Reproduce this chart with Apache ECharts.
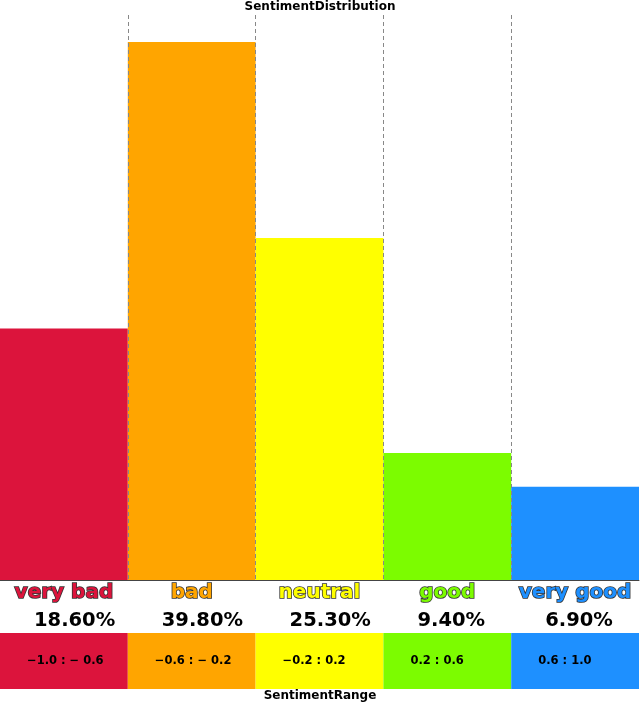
<!DOCTYPE html>
<html><head><meta charset="utf-8">
<script src="https://cdn.jsdelivr.net/npm/echarts@6/dist/echarts.min.js"></script>
<style>html,body{margin:0;padding:0;background:#fff}#c{width:640px;height:703px}</style>
</head><body><div id="c"></div>
<script>
const categories = ['very bad', 'bad', 'neutral', 'good', 'very good'];
const percentages = [18.6, 39.8, 25.3, 9.4, 6.9];
const ranges = ['\u22121.0 : \u2212 0.6', '\u22120.6 : \u2212 0.2', '\u22120.2 : 0.2', '0.2 : 0.6', '0.6 : 1.0'];
const colors = ['#DC143C', '#FFA500', '#FFFF00', '#7CFC00', '#1E90FF'];
const bandValues = [1, 1, 1, 1, 1];

const FONT = 'DejaVu Sans';
const chart = echarts.init(document.getElementById('c'), null, {renderer: 'canvas'});
const maxPct = Math.max(...percentages);
chart.setOption({
  animation: false,
  textStyle: {fontFamily: FONT},
  title: [
    {text: 'SentimentDistribution', left: 'center', top: -4, textStyle: {fontFamily: FONT, fontSize: 12, fontWeight: 'bold', color: '#000'}},
    {text: 'SentimentRange', left: 'center', top: 685, textStyle: {fontFamily: FONT, fontSize: 12, fontWeight: 'bold', color: '#000'}}
  ],
  grid: [
    {left: 0, right: 1, top: 15, height: 565},
    {left: 0, right: 1, top: 606, height: 30},
    {left: 0, right: 1, top: 633, height: 56}
  ],
  xAxis: [
    {type: 'category', gridIndex: 0, data: categories,
      axisLine: {show: true, lineStyle: {color: '#444', width: 1}},
      axisTick: {show: false}, splitLine: {show: false},
      axisLabel: {interval: 0, margin: 3, fontSize: 20, fontWeight: 'bold', fontFamily: FONT,
        color: (v, i) => colors[i], textBorderColor: '#333', textBorderWidth: 1.6}},
    {type: 'value', gridIndex: 0, min: 0, max: categories.length, interval: 1, show: true, z: 10,
      axisLine: {show: false}, axisTick: {show: false}, axisLabel: {show: false},
      splitLine: {show: true, showMinLine: false, showMaxLine: false, lineStyle: {color: '#888', type: [4, 3], width: 1}}},
    {type: 'category', gridIndex: 1, data: categories, show: false},
    {type: 'category', gridIndex: 2, data: categories, show: false}
  ],
  yAxis: [
    {type: 'value', gridIndex: 0, min: 0, max: maxPct * 1.05, show: false},
    {type: 'value', gridIndex: 1, min: 0, max: 1, show: false},
    {type: 'value', gridIndex: 2, min: 0, max: 1, show: false}
  ],
  series: [
    {type: 'bar', xAxisIndex: 0, yAxisIndex: 0, barCategoryGap: 0,
      data: percentages.map((v, i) => ({value: v, itemStyle: {color: colors[i]}}))},
    {type: 'bar', xAxisIndex: 2, yAxisIndex: 1, barCategoryGap: 0,
      data: bandValues.map((v, i) => ({value: v, itemStyle: {color: 'rgba(0,0,0,0)'}})),
      label: {show: true, position: 'insideLeft', distance: 34, fontSize: 19.5, fontWeight: 'bold', fontFamily: FONT, color: '#000',
        formatter: p => percentages[p.dataIndex].toFixed(2) + '%'}},
    {type: 'bar', xAxisIndex: 3, yAxisIndex: 2, barCategoryGap: 0,
      data: bandValues.map((v, i) => ({value: v, itemStyle: {color: colors[i]}})),
      label: {show: true, position: 'insideLeft', distance: 27, fontSize: 11.5, fontWeight: 'bold', fontFamily: FONT, color: '#000',
        formatter: p => ranges[p.dataIndex]}}
  ]
});
</script></body></html>
